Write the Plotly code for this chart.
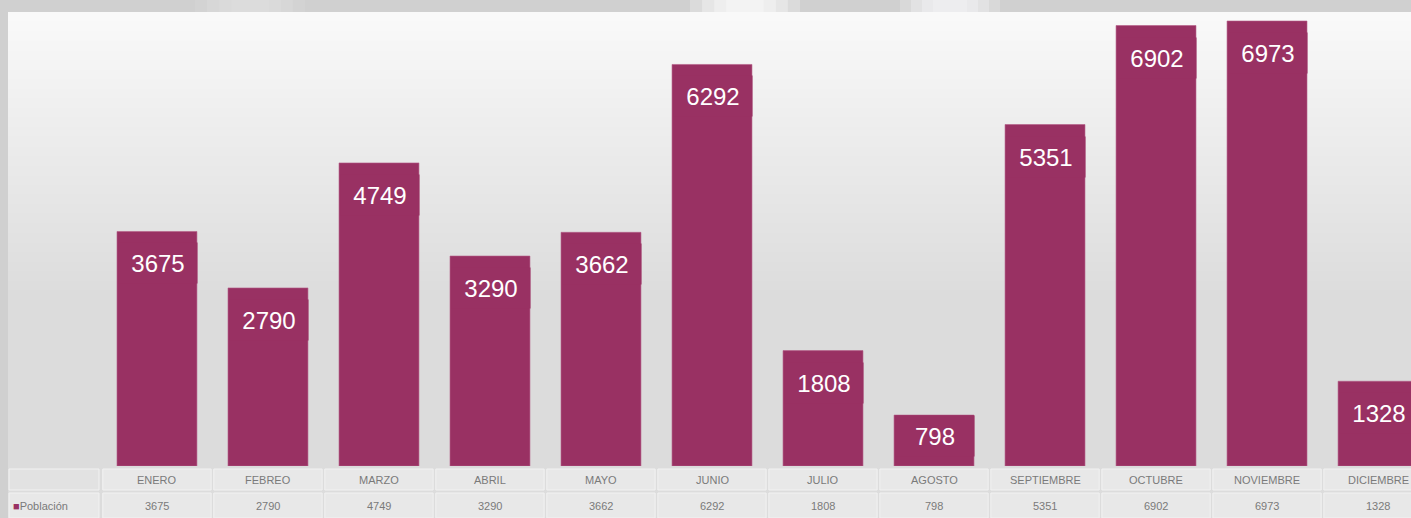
import plotly.graph_objects as go

months = ["ENERO", "FEBREO", "MARZO", "ABRIL", "MAYO", "JUNIO", "JULIO",
          "AGOSTO", "SEPTIEMBRE", "OCTUBRE", "NOVIEMBRE", "DICIEMBRE"]
poblacion = [3675, 2790, 4749, 3290, 3662, 6292, 1808, 798, 5351, 6902, 6973, 1328]
series_name = "Población"

BAR = "#993163"
W, H = 1411, 518
T, B, L, R = 12, 52, 8, 0
YMAX = 7114
plot_h = H - T - B
plot_w = W - L - R


def px_x(px):
    return (px - L) / plot_w


def px_y(py):
    return (H - B - py) / plot_h


fig = go.Figure()
fig.add_trace(go.Bar(
    x=months, y=poblacion, width=0.72, name=series_name,
    marker=dict(color=BAR, line=dict(color="#b45c86", width=0.6)),
    hoverinfo="x+y",
))

shapes = []


def mix(c1, c2, t):
    return "#%02x%02x%02x" % tuple(int(round(a + (b - a) * t)) for a, b in zip(c1, c2))


# panel vertical gradient (decoration)
top_c, mid_c = (249, 249, 249), (220, 220, 220)
n = 60
panel_top_px, grad_end_px = T, 300
for i in range(n):
    y0px = panel_top_px + (grad_end_px - panel_top_px) * i / n
    y1px = panel_top_px + (grad_end_px - panel_top_px) * (i + 1) / n + 1
    shapes.append(dict(type="rect", xref="paper", yref="paper", layer="below",
                       x0=px_x(L), x1=px_x(W), y0=px_y(y1px), y1=px_y(y0px),
                       fillcolor=mix(top_c, mid_c, i / (n - 1)), line_width=0))
shapes.append(dict(type="rect", xref="paper", yref="paper", layer="below",
                   x0=px_x(L), x1=px_x(W), y0=px_y(H), y1=px_y(grad_end_px),
                   fillcolor="#dcdcdc", line_width=0))
# light streaks in the top strip
for cx, hw, col in [(745, 55, "#f4f4f4"), (950, 50, "#eeeef0"), (250, 55, "#dcdcdc")]:
    for k, op in enumerate([0.3, 0.45, 0.6, 0.8]):
        w = hw * (1 - k * 0.22)
        shapes.append(dict(type="rect", xref="paper", yref="paper", layer="below",
                           x0=px_x(cx - w), x1=px_x(cx + w), y0=px_y(T), y1=px_y(0),
                           fillcolor=col, opacity=op, line_width=0))

# table rows
row1 = (469, 490)
row2 = (493, 518)
cell_bg = "#e8e8e8"
gap = 0.012
for (r0, r1) in (row1, row2):
    shapes.append(dict(type="rect", xref="paper", yref="paper", layer="below",
                       x0=px_x(L + 1), x1=px_x(99), y0=px_y(r1), y1=px_y(r0),
                       fillcolor=cell_bg if r0 == row2[0] else "#e2e2e2",
                       line=dict(color="#f2f2f2", width=1)))
    for i in range(len(months)):
        shapes.append(dict(type="rect", xref="x", yref="paper", layer="below",
                           x0=i - 0.5 + gap, x1=i + 0.5 - gap,
                           y0=px_y(r1), y1=px_y(r0),
                           fillcolor=cell_bg, line=dict(color="#f2f2f2", width=1)))

annotations = []
tfont = dict(family="Liberation Sans, Arial", size=11, color="#7a7a7a")
for i, (m, v) in enumerate(zip(months, poblacion)):
    bar_px = v * plot_h / YMAX
    shift = min(32, bar_px * 0.42)
    annotations.append(dict(x=m, y=v, xref="x", yref="y", yanchor="middle",
                            yshift=-shift, xshift=1, showarrow=False, text=str(v),
                            font=dict(family="Liberation Sans, Arial", size=24, color="#ffffff"),
                            bgcolor=BAR, width=76, height=38, borderpad=1))
    annotations.append(dict(x=m, y=px_y((row1[0] + row1[1]) / 2), xref="x", yref="paper",
                            yanchor="middle", showarrow=False, text=m, font=tfont))
    annotations.append(dict(x=m, y=px_y((row2[0] + row2[1]) / 2), xref="x", yref="paper",
                            yanchor="middle", showarrow=False, text=str(v), font=tfont))
annotations.append(dict(x=px_x(11), y=px_y((row2[0] + row2[1]) / 2), xref="paper", yref="paper",
                        xanchor="left", yanchor="middle", showarrow=False,
                        text=f"<span style='color:{BAR}'>■</span>{series_name}", font=tfont))

fig.update_layout(
    width=W, height=H,
    margin=dict(l=L, r=R, t=T, b=B, pad=0),
    paper_bgcolor="#d0d0d0", plot_bgcolor="rgba(0,0,0,0)",
    showlegend=False, bargap=0.28,
    xaxis=dict(range=[-1.342, 11.297], showticklabels=False, showgrid=False,
               zeroline=False, showline=False, ticks=""),
    yaxis=dict(range=[0, YMAX], showticklabels=False, showgrid=False,
               zeroline=False, showline=False, ticks=""),
    shapes=shapes, annotations=annotations,
)

fig.write_html("out.html",
               config={"displayModeBar": False},
               post_script="document.body.style.margin='0';document.body.style.padding='0';"
                           "document.documentElement.style.overflow='hidden';")
